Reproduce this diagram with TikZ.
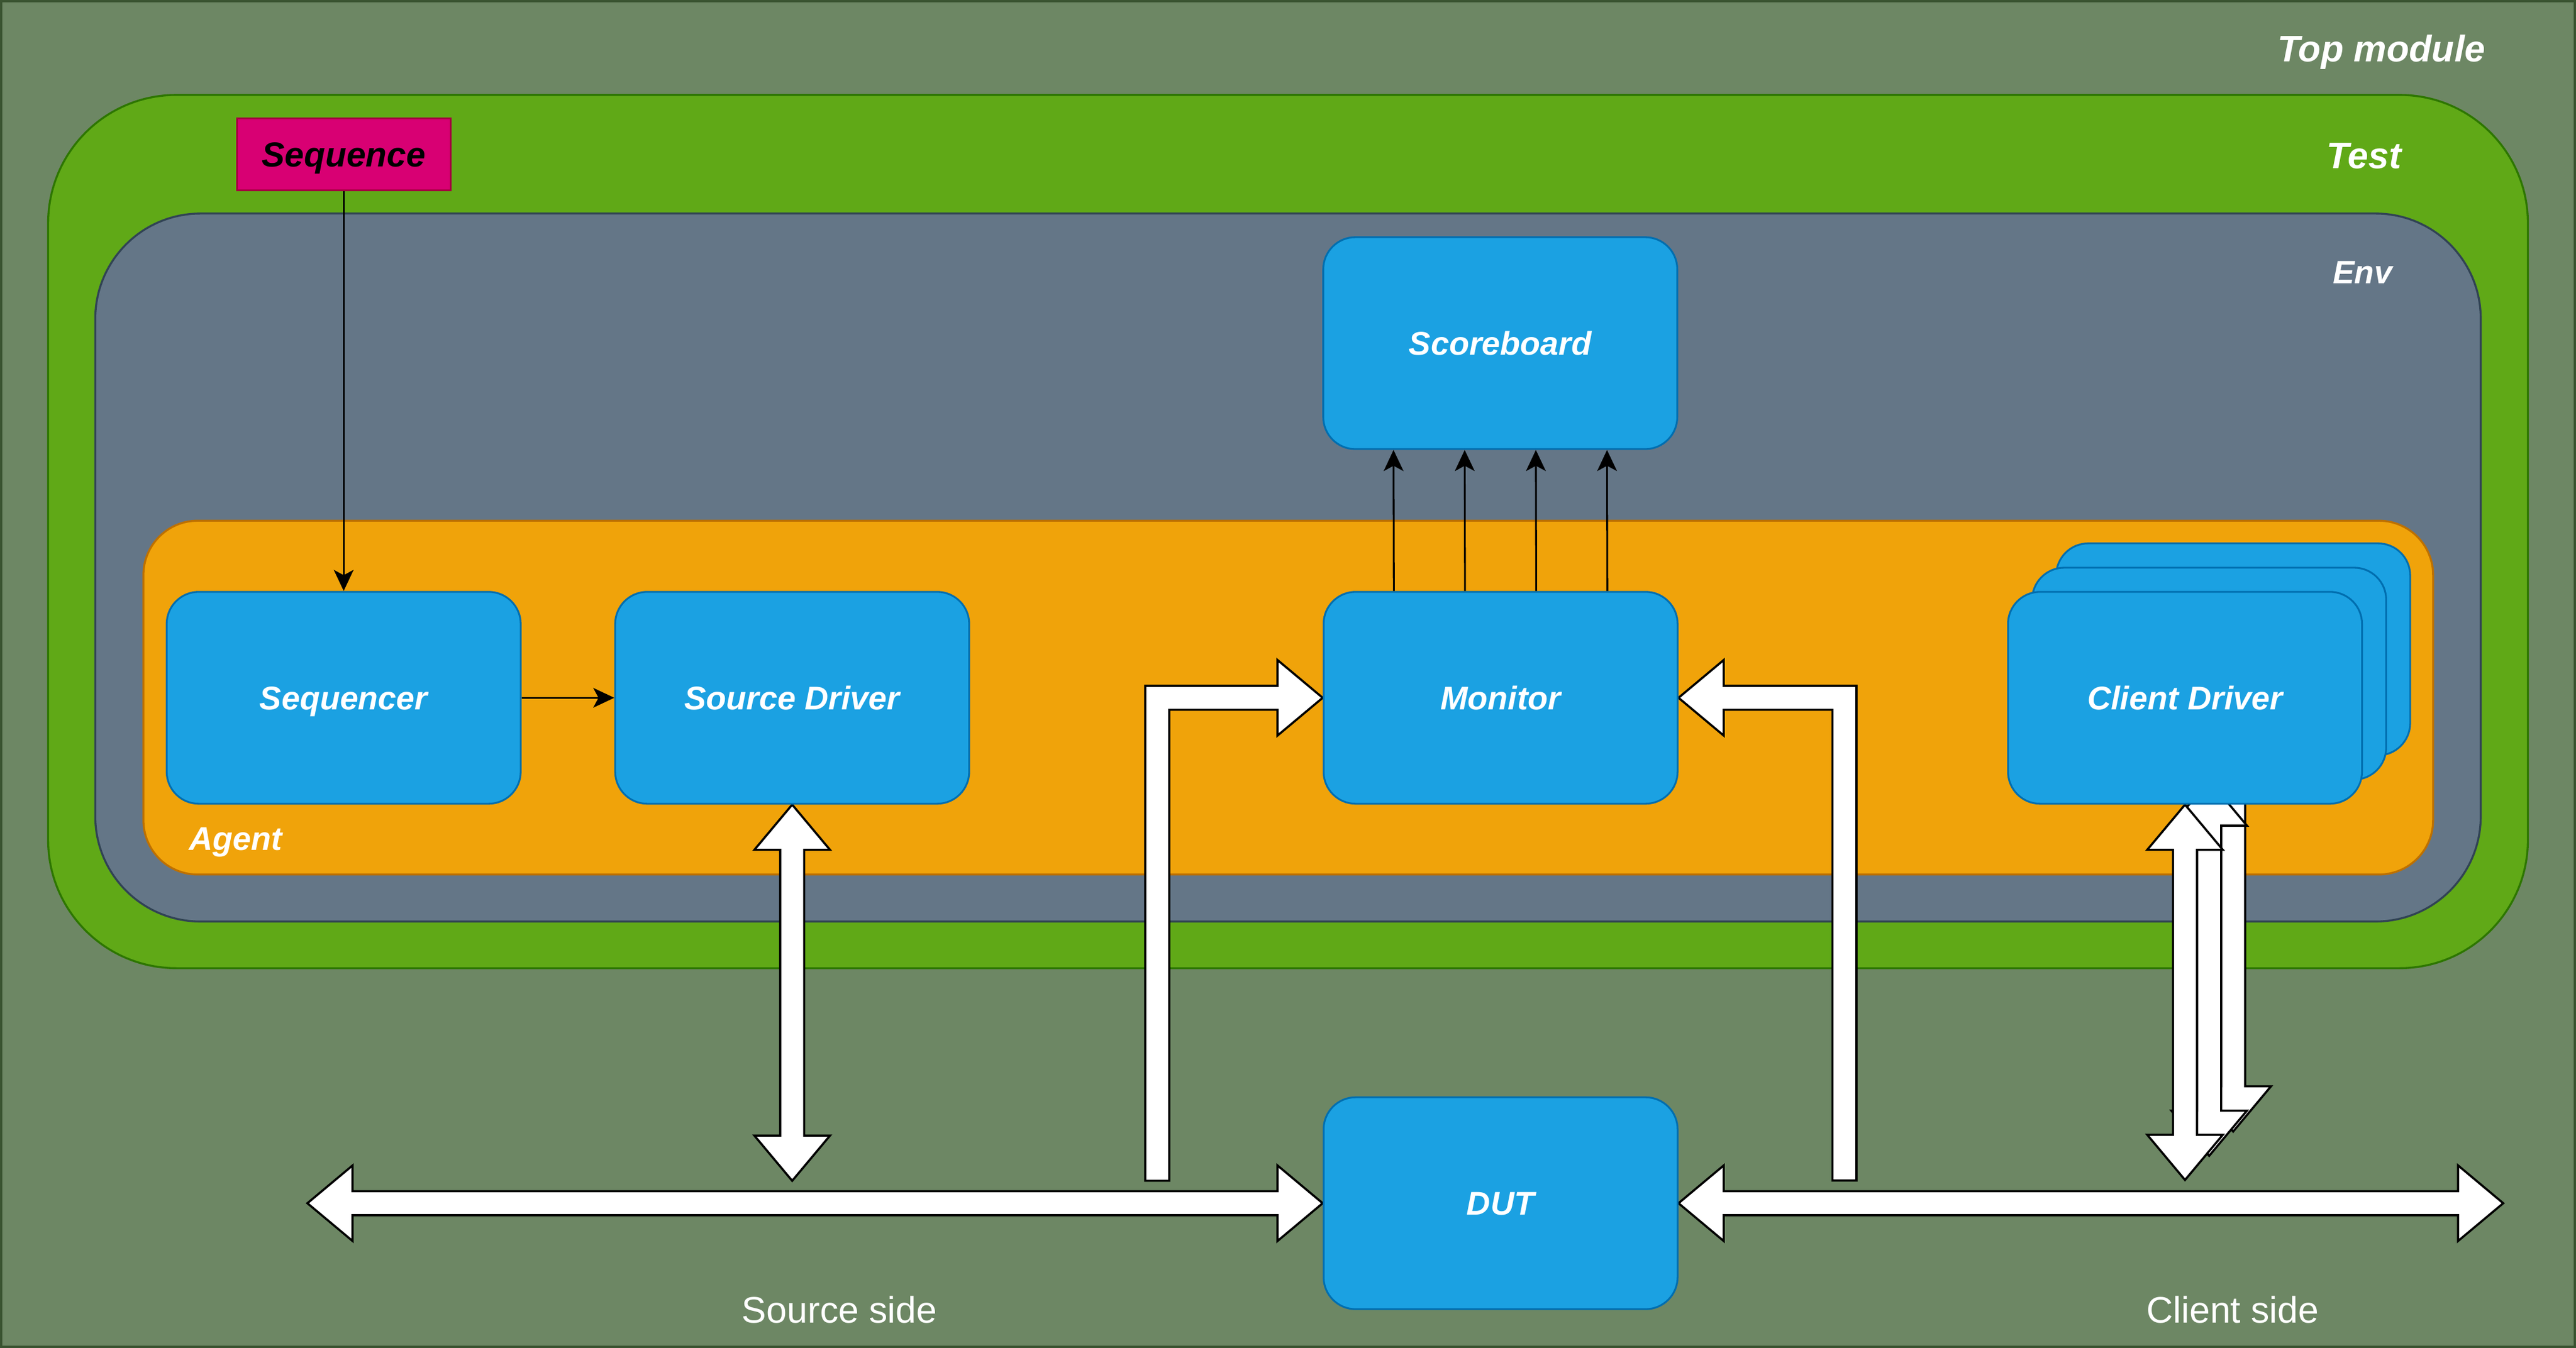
\documentclass[tikz,border=0pt]{standalone}
\usepackage{fontspec}
\setmainfont{Liberation Sans}
\usetikzlibrary{arrows.meta,calc}

\definecolor{topfill}{HTML}{6D8764}
\definecolor{topline}{HTML}{3A5431}
\definecolor{testfill}{HTML}{60A917}
\definecolor{testline}{HTML}{2D7600}
\definecolor{envfill}{HTML}{647687}
\definecolor{envline}{HTML}{314354}
\definecolor{agentfill}{HTML}{F0A30A}
\definecolor{agentline}{HTML}{BD7000}
\definecolor{blkfill}{HTML}{1BA1E2}
\definecolor{blkline}{HTML}{006EAF}
\definecolor{seqfill}{HTML}{D80073}
\definecolor{seqline}{HTML}{A50040}

\pgfdeclarelayer{back}
\pgfdeclarelayer{mid}
\pgfsetlayers{back,mid,main}

\tikzset{
	blk/.style={draw=blkline, fill=blkfill, line width=0.055cm, rounded corners=0.975cm,
		minimum width=10.775cm, minimum height=6.45cm, inner sep=0pt,
		text=white, font=\fontsize{28.45}{34}\selectfont\bfseries\itshape,
		text height=20.4pt, text depth=0pt},
	seqbox/.style={draw=seqline, fill=seqfill, line width=0.055cm,
		minimum width=6.5cm, minimum height=2.2cm, inner sep=0pt,
		font=\fontsize{30}{36}\selectfont\bfseries\itshape,
		text height=21.5pt, text depth=0pt},
	lbl/.style={text=white, inner sep=0pt, font=\fontsize{32}{38}\selectfont\bfseries\itshape},
	side/.style={text=white, inner sep=0pt, font=\fontsize{32}{38}\selectfont},
	wire/.style={line width=0.055cm, -{Stealth[length=0.64cm,width=0.6cm,inset=0.16cm]}},
	bus/.style={draw=black, fill=white, line width=0.065cm, line join=miter}
}

% double block arrow, downwards from #1, length #2
\newcommand{\vbus}[2]{\draw[bus] (#1) -- ++(23,27.5) -- ++(-15.7,0) -- ++(0,#2-55) -- ++(15.7,0) -- ++(-23,27.5) -- ++(-23,-27.5) -- ++(15.7,0) -- ++(0,55-#2) -- ++(-15.7,0) -- cycle;}

\begin{document}
\begin{tikzpicture}[x=0.05cm,y=-0.05cm]
	\useasboundingbox (0,0) rectangle (1568,820.6);

	\begin{pgfonlayer}{back}
	\draw[fill=topfill, draw=topline, line width=0.07cm] (0.7,0.7) rectangle (1567.3,819.9);
	\draw[fill=testfill, draw=testline, line width=0.06cm, rounded corners=3.9cm] (29.3,57.8) rectangle (1538.7,589.4);
	\draw[fill=envfill, draw=envline, line width=0.06cm, rounded corners=3.2cm] (58,130) rectangle (1510,561);
	\draw[fill=agentfill, draw=agentline, line width=0.06cm, rounded corners=1.65cm] (87.3,317) rectangle (1481,532.4);
	\end{pgfonlayer}

	\node[lbl, anchor=base] (toplbl) at (1449.5,37.6) {Top module};
	\node[lbl, anchor=base] (testlbl) at (1439,102.5) {Test};
	\node[lbl, anchor=base, font=\fontsize{28}{34}\selectfont\bfseries\itshape] (envlbl) at (1438,172.6) {Env};
	\node[lbl, anchor=base west, font=\fontsize{28.45}{34}\selectfont\bfseries\itshape] (agentlbl) at (115,517.5) {Agent};

	\node[seqbox] (seq) at (209.2,94) {Sequence};
	\node[blk] (seqr) at (209.2,424.8) {Sequencer};
	\node[blk] (srcdrv) at (482.2,424.8) {Source Driver};
	\node[blk] (sb) at (913.2,208.9) {Scoreboard};
	\node[blk] (mon) at (913.4,424.8) {Monitor};
	\node[blk] (dut) at (913.4,732.5) {DUT};
	\node[blk] (cdrvb) at (1359.3,395.3) {};
	\node[blk] (cdrvm) at (1344.7,410.1) {};
	\node[blk] (cdrv) at (1330,424.8) {Client Driver};

	\node[side, anchor=base] (srcside) at (511,805.5) {Source side};
	\node[side, anchor=base] (cliside) at (1359,805.5) {Client side};

	\draw[wire] (seq) -- (seqr);
	\draw[wire] (seqr) -- (srcdrv);
	\foreach \f in {0.2,0.4,0.6,0.8}
		\draw[wire] ($(mon.north west)!\f!(mon.north east)$) -- ($(sb.south west)!\f!(sb.south east)$);

	\begin{pgfonlayer}{mid}
	\vbus{srcdrv.south}{229}
	\vbus{cdrvb.south}{228.5}
	\vbus{cdrvm.south}{228.5}
	\vbus{cdrv.south}{228.5}
	% elbows into the monitor
	\draw[bus] (mon.west) -- ++(-27.5,-23) -- ++(0,15.7) -- ++(-80.5,0) -- ++(0,301.3) -- ++(14.6,0) -- ++(0,-286.7) -- ++(65.9,0) -- ++(0,15.7) -- cycle;
	\draw[bus] (mon.east) -- ++(27.5,-23) -- ++(0,15.7) -- ++(80.8,0) -- ++(0,301.2) -- ++(-14.6,0) -- ++(0,-286.6) -- ++(-66.2,0) -- ++(0,15.7) -- cycle;
	% source and client busses
	\draw[bus] (dut.west) -- ++(-27.5,-23) -- ++(0,15.7) -- ++(-563,0) -- ++(0,-15.7) -- ++(-27.5,23) -- ++(27.5,23) -- ++(0,-15.7) -- ++(563,0) -- ++(0,15.7) -- cycle;
	\draw[bus] (dut.east) -- ++(27.5,-23) -- ++(0,15.7) -- ++(447,0) -- ++(0,-15.7) -- ++(27.5,23) -- ++(-27.5,23) -- ++(0,-15.7) -- ++(-447,0) -- ++(0,15.7) -- cycle;
	\end{pgfonlayer}
\end{tikzpicture}
\end{document}
